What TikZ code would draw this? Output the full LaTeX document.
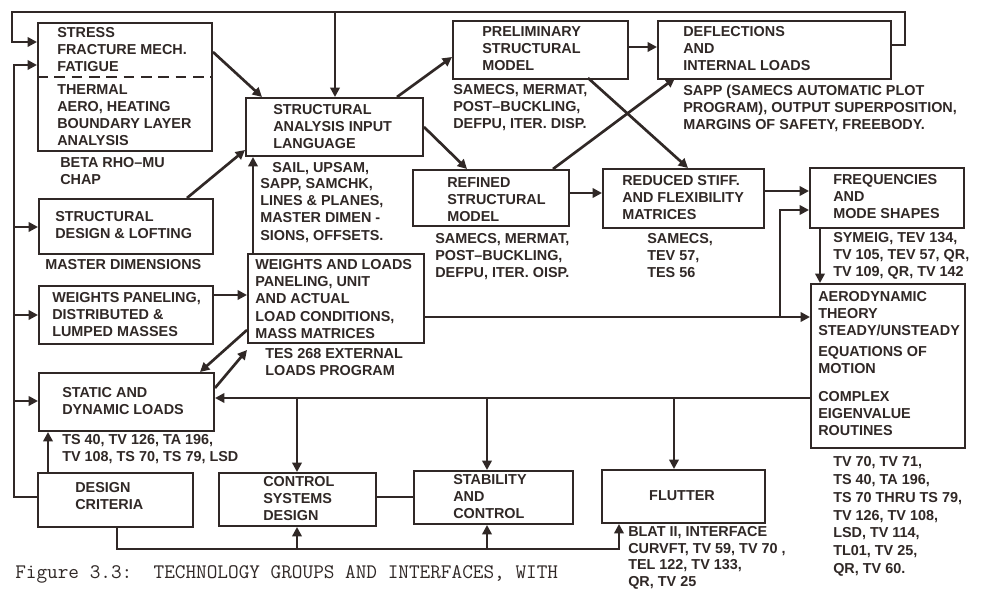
\documentclass[tikz,border=0pt]{standalone}
\usepackage{fontspec}
\setsansfont{Liberation Sans}
\usetikzlibrary{arrows.meta}
\definecolor{ink}{RGB}{48,40,38}
\newcommand\mybox[5]{\node[box,anchor=north west,minimum width={(#4-#2)*0.75pt},minimum height={(#5-#3)*0.75pt}] (#1) at (#2,#3) {};}
\begin{document}
\begin{tikzpicture}[x=0.75pt,y=-0.75pt,
  box/.style={draw=ink,line width=1.5pt,inner sep=0pt},
  lbl/.style={font=\sffamily\bfseries\fontsize{10.8}{12.8}\selectfont,text=ink,align=left,inner sep=0pt,anchor=north west},
  lblw/.style={lbl,font=\sffamily\bfseries\fontsize{10.8}{13.3}\selectfont},
  lbln/.style={lbl,font=\sffamily\bfseries\fontsize{10.8}{12.6}\selectfont},
  captxt/.style={font=\ttfamily\fontsize{15.5}{18}\selectfont,text=ink,inner sep=0pt,anchor=north west},
  conn/.style={draw=ink,line width=2pt},
  arr/.style={conn,-{Triangle[length=7pt,width=7pt]}},
  dsh/.style={draw=ink,line width=1.5pt,dash pattern=on 8pt off 5pt}]
\path[use as bounding box,fill=white] (0,0) rectangle (982,591);
% boxes
\mybox{stress}{37}{22}{211}{150}
\mybox{sail}{245}{97}{422}{155}
\mybox{prelim}{452}{20}{627}{78}
\mybox{defl}{657}{20}{890}{78}
\mybox{refined}{412}{169}{568}{225}
\mybox{reduced}{602}{168}{763}{227}
\mybox{freq}{809}{167}{963}{227}
\mybox{aero}{810}{283}{964}{447}
\mybox{sdesign}{38}{198}{212}{253}
\mybox{wpanel}{38}{285}{212}{343}
\mybox{wl}{247}{253}{423}{342}
\mybox{static}{38}{372}{213}{430}
\mybox{dcrit}{37}{472}{192}{526}
\mybox{control}{218}{472}{375}{525}
\mybox{stab}{413}{470}{572}{523}
\mybox{flutter}{601}{469}{764}{522}
\draw[dsh] (stress.west |- 0,77) -- (stress.east |- 0,77);
% labels
\node[lbl] (t1) at (57,27.5) {STRESS\\FRACTURE MECH.\\FATIGUE};
\node[lbl] (t2) at (57,84.5) {THERMAL\\AERO, HEATING\\BOUNDARY LAYER\\ANALYSIS};
\node[lbl] (t3) at (60,157.5) {BETA RHO--MU\\CHAP};
\node[lbl] (t4) at (273,104.5) {STRUCTURAL\\ANALYSIS INPUT\\LANGUAGE};
\node[lbl] (t5) at (272,162) {SAIL, UPSAM,};
\node[lbl] (t6) at (260,178.5) {SAPP, SAMCHK,\\LINES \& PLANES,\\MASTER DIMEN -\\SIONS, OFFSETS.};
\node[lbl] (t7) at (482,26.5) {PRELIMINARY\\STRUCTURAL\\MODEL};
\node[lbl] (t8) at (453,84.5) {SAMECS, MERMAT,\\POST--BUCKLING,\\DEFPU, ITER. DISP.};
\node[lbl] (t9) at (683,26.5) {DEFLECTIONS\\AND\\INTERNAL LOADS};
\node[lbl] (t10) at (683,84.5) {SAPP (SAMECS AUTOMATIC PLOT\\PROGRAM), OUTPUT SUPERPOSITION,\\MARGINS OF SAFETY, FREEBODY.};
\node[lbl] (t11) at (447,177.5) {REFINED\\STRUCTURAL\\MODEL};
\node[lbl] (t12) at (435,233.5) {SAMECS, MERMAT,\\POST--BUCKLING,\\DEFPU, ITER. OISP.};
\node[lbl] (t13) at (622,175.5) {REDUCED STIFF.\\AND FLEXIBILITY\\MATRICES};
\node[lbl] (t14) at (647,233.5) {SAMECS,\\TEV 57,\\TES 56};
\node[lbl] (t15) at (833,174.5) {FREQUENCIES\\AND\\MODE SHAPES};
\node[lbl] (t16) at (833,232.5) {SYMEIG, TEV 134,\\TV 105, TEV 57, QR,\\TV 109, QR, TV 142};
\node[lbl] (t17) at (818,291.5) {AERODYNAMIC\\THEORY\\STEADY/UNSTEADY};
\node[lbl] (t18) at (818,346.5) {EQUATIONS OF\\MOTION};
\node[lbl] (t19) at (818,391.5) {COMPLEX\\EIGENVALUE\\ROUTINES};
\node[lblw] (t20) at (833,456.5) {TV 70, TV 71,\\TS 40, TA 196,\\TS 70 THRU TS 79,\\TV 126, TV 108,\\LSD, TV 114,\\TL01, TV 25,\\QR, TV 60.};
\node[lbl] (t21) at (55,211.5) {STRUCTURAL\\DESIGN \& LOFTING};
\node[lbl] (t22) at (45,259.5) {MASTER DIMENSIONS};
\node[lbl] (t23) at (52,292.5) {WEIGHTS PANELING,\\DISTRIBUTED \&\\LUMPED MASSES};
\node[lbl] (t24) at (255,259.5) {WEIGHTS AND LOADS\\PANELING, UNIT\\AND ACTUAL\\LOAD CONDITIONS,\\MASS MATRICES};
\node[lbl] (t25) at (265,348.5) {TES 268 EXTERNAL\\LOADS PROGRAM};
\node[lbl] (t26) at (62,387.5) {STATIC AND\\DYNAMIC LOADS};
\node[lbl] (t27) at (62,434.5) {TS 40, TV 126, TA 196,\\TV 108, TS 70, TS 79, LSD};
\node[lbl] (t28) at (75,482.5) {DESIGN\\CRITERIA};
\node[lbl] (t29) at (263,476.5) {CONTROL\\SYSTEMS\\DESIGN};
\node[lbl] (t30) at (453,474.5) {STABILITY\\AND\\CONTROL};
\node[lbl,anchor=center] (t31) at (682,496) {FLUTTER};
\node[lbln] (t32) at (628,526) {BLAT II, INTERFACE\\CURVFT, TV 59, TV 70 ,\\TEL 122, TV 133,\\QR, TV 25};
\node[captxt] (c1) at (15,565) {Figure 3.3:\ \ TECHNOLOGY GROUPS AND INTERFACES, WITH};
% connectors
\coordinate (topR) at (905,12);
\coordinate (topL) at (12,12);
\coordinate (j1) at (335,12);
\draw[arr] (defl.east |- 0,45) -| (topR) -- (topL) |- (stress.west |- 0,42);
\draw[arr] (j1) -- (sail.north -| j1);
\coordinate (lvtop) at (14,65);
\draw[arr] (dcrit.west |- 0,497) -| (lvtop) -- (stress.west |- lvtop);
\draw[arr] (lvtop |- 0,227) -- (sdesign.west |- 0,227);
\draw[arr] (lvtop |- 0,315) -- (wpanel.west |- 0,315);
\draw[arr] (lvtop |- 0,401) -- (static.west |- 0,401);
\draw[arr] (stress.east |- 0,52) -- (262,97);
\draw[arr] (187,198) -- (sail.west |- 0,150);
\draw[arr] (wl.north -| 253,0) -- (sail.south -| 253,0);
\draw[arr] (wpanel.east |- 0,295) -- (wl.west |- 0,295);
\draw[arr] (397,97) -- (prelim.west |- 0,57);
\draw[arr] (sail.east |- 0,127) -- (467,169);
\draw[arr] (prelim.east |- 0,47) -- (defl.west |- 0,47);
\draw[arr] (588,78) -- (688,168);
\draw[arr] (553,169) -- (675,78);
\draw[arr] (refined.east |- 0,193) -- (reduced.west |- 0,193);
\draw[arr] (reduced.east |- 0,191) -- (freq.west |- 0,191);
\coordinate (vj) at (780,317);
\draw[arr] (wl.east |- 0,317) -- (aero.west |- vj);
\draw[arr] (vj) |- (freq.west |- 0,210);
\draw[arr] (freq.south -| 820,0) -- (aero.north -| 820,0);
\draw[arr] (aero.west |- 0,398) -- (static.east |- 0,398);
\draw[arr] (297,398) -- (control.north -| 297,0);
\draw[arr] (487,398) -- (stab.north -| 487,0);
\draw[arr] (674,398) -- (flutter.north -| 674,0);
\coordinate (bl) at (117,549);
\draw[arr] (dcrit.south -| bl) -- (bl) -| (flutter.south -| 619,0);
\draw[arr] (297,549) -- (control.south -| 297,0);
\draw[arr] (487,549) -- (stab.south -| 487,0);
\draw[conn] (control.east |- 0,497) -- (stab.west |- 0,497);
\draw[arr] (dcrit.north -| 48,0) -- (static.south -| 48,0);
\draw[arr] (wl.west |- 0,330) -- (200,372);
\draw[arr] (static.east |- 0,388) -- (wl.west |- 0,350);
\end{tikzpicture}
\end{document}
